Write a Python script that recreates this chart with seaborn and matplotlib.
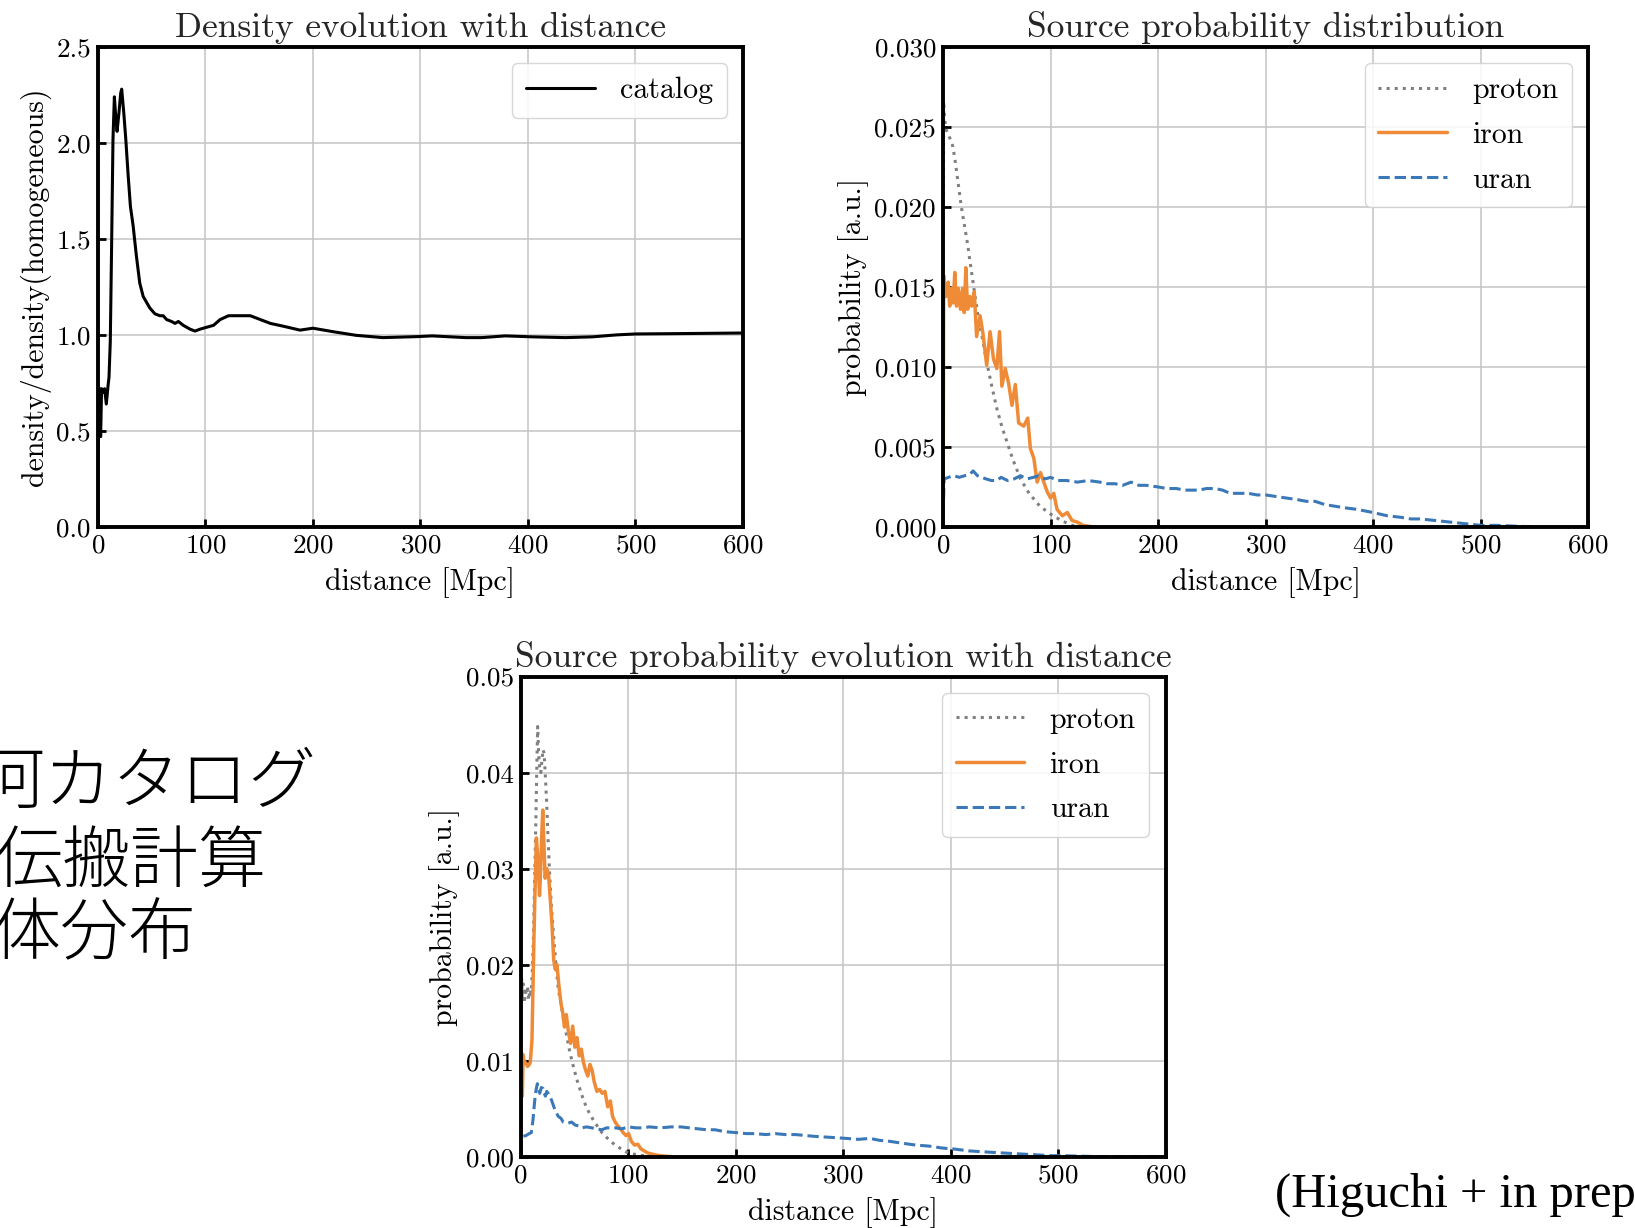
import matplotlib
matplotlib.use("Agg")
import matplotlib.pyplot as plt
import seaborn as sns
from matplotlib.ticker import FormatStrFormatter, MultipleLocator

# ---------------- data ----------------
# catalog density relative to a homogeneous distribution
catalog_dist = [0, 0.6, 1.6, 2.5, 3.4, 4.7, 6.2, 7.8, 9.3, 10.3, 11.5, 12.8, 14.0, 15.3,
                16.5, 17.8, 19.6, 21.2, 22.1, 24.0, 25.9, 28.0, 30.2, 32.7, 35.8, 38.9,
                42.1, 45.2, 48.3, 53.0, 57.6, 60.7, 63.9, 68.5, 71.7, 74.8, 79.4, 85.7,
                90.3, 95.0, 101.2, 107.5, 113.7, 121.5, 129.3, 141.7, 151.1, 160.4, 172.7,
                188, 200, 218.5, 240, 265, 296, 311, 342, 357, 379, 404, 435, 460, 482,
                500, 543, 600]
catalog_ratio = [0.0, 0.73, 0.70, 0.47, 0.72, 0.70, 0.72, 0.64, 0.73, 0.78, 0.97, 1.50,
                 2.02, 2.24, 2.14, 2.06, 2.16, 2.26, 2.28, 2.16, 2.02, 1.84, 1.67, 1.57,
                 1.41, 1.27, 1.20, 1.17, 1.14, 1.11, 1.10, 1.10, 1.08, 1.07, 1.06, 1.07,
                 1.05, 1.03, 1.02, 1.03, 1.04, 1.05, 1.08, 1.10, 1.10, 1.10, 1.08, 1.06,
                 1.045, 1.025, 1.035, 1.017, 0.998, 0.986, 0.991, 0.995, 0.986, 0.986,
                 0.995, 0.99, 0.986, 0.99, 1.0, 1.005, 1.007, 1.01]

# source probability distribution
dist_proton = [0, 0.5, 1.5, 3, 5, 7, 9, 11, 13, 15, 17, 19, 21, 23, 25, 27, 30, 33, 36,
               40, 45, 50, 55, 60, 65, 72, 80, 90, 100, 110, 120, 130, 145]
prob_proton = [0.0, 0.0266, 0.0255, 0.0248, 0.0245, 0.0242, 0.0238, 0.0230, 0.0220,
               0.0210, 0.0200, 0.0192, 0.0184, 0.0176, 0.0166, 0.0157, 0.0143, 0.0130,
               0.0120, 0.0105, 0.0089, 0.0074, 0.0062, 0.0052, 0.0042, 0.0030, 0.0021,
               0.0013, 0.0008, 0.0004, 0.0001, 0.0, 0.0]

dist_iron = [0, 0.6, 2.5, 4.7, 6.2, 7.8, 9.4, 10.9, 12.5, 14.1, 16.2, 18.1, 19.7, 21.2,
             22.8, 25.0, 26.6, 29.0, 31.2, 34.4, 36.9, 40.6, 43.7, 46.9, 50.0, 52.5, 54.7,
             57.8, 60.9, 64.1, 67.2, 70.3, 75.0, 78.8, 81.2, 84.4, 87.5, 90.6, 93.7, 96.9,
             100, 103, 106, 111, 115.6, 120, 125, 130, 140]
prob_iron = [0.0, 0.0157, 0.0144, 0.0153, 0.0138, 0.0149, 0.0140, 0.0159, 0.0138, 0.0149,
             0.0136, 0.0149, 0.0134, 0.0162, 0.0136, 0.0144, 0.0138, 0.0147, 0.0119,
             0.0132, 0.0122, 0.0101, 0.0122, 0.0105, 0.0099, 0.0122, 0.0088, 0.0099,
             0.0090, 0.0076, 0.0089, 0.0065, 0.0063, 0.0068, 0.0049, 0.0043, 0.0028,
             0.0034, 0.0028, 0.0022, 0.0018, 0.0021, 0.0011, 0.0007, 0.0009, 0.0004,
             0.0003, 0.0001, 0.0]

dist_uran = [0, 1, 5, 10, 15, 20, 25, 28, 32, 36, 40, 45, 50, 54, 60, 66, 72, 78, 84, 89,
             95, 100, 107, 115, 125, 135, 146, 153, 160, 167, 175, 182, 189, 200, 208, 217,
             225, 238, 245, 253, 260, 267, 275, 284, 292, 300, 310, 320, 330, 338, 346,
             355, 364, 373, 385, 400, 413, 426, 435, 444, 458, 472, 486, 500, 515, 532,
             550, 570, 600]
prob_uran = [0.0007, 0.0030, 0.0031, 0.0032, 0.0031, 0.0032, 0.0033, 0.0035, 0.0032,
             0.0031, 0.0030, 0.0029, 0.0029, 0.0031, 0.0029, 0.0030, 0.0032, 0.0030,
             0.0031, 0.0032, 0.0030, 0.0031, 0.0029, 0.0029, 0.0028, 0.0029, 0.0028,
             0.0027, 0.0027, 0.0026, 0.0028, 0.0026, 0.0026, 0.0025, 0.0024, 0.0024,
             0.0023, 0.0023, 0.0024, 0.0024, 0.0023, 0.0021, 0.0021, 0.0021, 0.0020,
             0.0020, 0.0019, 0.0018, 0.0017, 0.0016, 0.0016, 0.0014, 0.0013, 0.0012,
             0.0011, 0.0009, 0.0007, 0.0006, 0.0005, 0.0005, 0.0004, 0.0003, 0.0002,
             0.0001, 0.0001, 0.00005, 0.0, 0.0, 0.0]

# source probability weighted by the catalog density
evo_dist_proton = [0, 0.8, 1.5, 2.5, 3.5, 4.5, 5.6, 6.5, 7.5, 8.7, 9.8, 10.8, 11.9, 12.8,
                   14.1, 15.2, 15.9, 16.8, 17.8, 18.8, 19.8, 20.8, 21.9, 22.9, 24.2, 25.6,
                   27.0, 28.7, 30.6, 32.5, 35, 37.5, 40, 43, 46, 49.5, 53, 57, 61, 65, 70,
                   75, 80, 88, 95, 100, 108, 115, 125]
evo_prob_proton = [0.0, 0.0190, 0.0165, 0.0180, 0.0160, 0.0172, 0.0168, 0.0178, 0.0163,
                   0.0174, 0.0170, 0.0190, 0.0225, 0.0274, 0.0344, 0.0413, 0.0448, 0.0420,
                   0.0405, 0.0400, 0.0412, 0.0424, 0.0420, 0.0400, 0.0370, 0.0330, 0.0295,
                   0.0260, 0.0232, 0.0205, 0.0175, 0.0160, 0.0143, 0.0125, 0.0108, 0.0092,
                   0.0078, 0.0064, 0.0052, 0.0043, 0.0034, 0.0026, 0.0020, 0.0012, 0.0007,
                   0.0004, 0.0002, 0.0001, 0.0]

evo_dist_iron = [0, 0.8, 1.6, 2.4, 3.2, 4.2, 5.3, 6.4, 7.5, 9.0, 10.6, 11.9, 13.1, 14.7,
                 16.2, 17.6, 18.3, 19.4, 20.6, 21.6, 22.8, 24.4, 26.0, 27.6, 29.2, 30.8,
                 32.3, 33.8, 35.5, 37.5, 39.2, 40.8, 42.5, 44.5, 46.5, 48.5, 50.5, 52.5,
                 54.5, 56.5, 58.5, 60.5, 62.5, 64.5, 66.5, 68.5, 71, 73.5, 76, 78.5, 81,
                 83.5, 85.5, 88, 90.5, 93, 95.5, 98, 100.5, 103, 106, 109, 112, 115, 118,
                 121, 125, 130, 140]
evo_prob_iron = [0.0, 0.0108, 0.0063, 0.0106, 0.0100, 0.0098, 0.0097, 0.0094, 0.0095,
                 0.0098, 0.0122, 0.0198, 0.0262, 0.0332, 0.0308, 0.0272, 0.0288, 0.0326,
                 0.0361, 0.0330, 0.0290, 0.0300, 0.0294, 0.0268, 0.0242, 0.0205, 0.0195,
                 0.0200, 0.0180, 0.0160, 0.0150, 0.0135, 0.0148, 0.0130, 0.0118, 0.0136,
                 0.0114, 0.0124, 0.0105, 0.0112, 0.0098, 0.0090, 0.0084, 0.0096, 0.0090,
                 0.0078, 0.0068, 0.0070, 0.0066, 0.0068, 0.0052, 0.0058, 0.0042, 0.0036,
                 0.0032, 0.0029, 0.0025, 0.0022, 0.0024, 0.0016, 0.0012, 0.0013, 0.0008,
                 0.0006, 0.0004, 0.0003, 0.0002, 0.0001, 0.0]

evo_dist_uran = [0, 0.6, 2.2, 5, 8, 10, 11.5, 13.1, 14.3, 15.6, 16.8, 17.8, 19.3, 20.9,
                 22.0, 23.1, 24.3, 25.6, 27.0, 28.75, 30.3, 31.9, 35, 37.5, 39.7, 44.4,
                 47.5, 50.6, 54, 56.9, 61.5, 66.25, 70, 75.6, 80, 88, 94, 100.6, 107, 113,
                 120, 130, 140, 149, 157, 165, 173, 181, 190, 201, 210, 218, 228, 237, 246,
                 256, 265, 275, 290, 303, 314, 325, 334, 343, 355, 368, 380, 392, 403, 417,
                 431, 446, 462, 478, 494, 505, 520, 540, 560, 600]
evo_prob_uran = [0.0005, 0.0016, 0.0021, 0.0022, 0.0024, 0.0025, 0.0038, 0.0058, 0.0069,
                 0.0076, 0.0070, 0.0066, 0.0072, 0.0071, 0.0066, 0.0063, 0.0068, 0.0066,
                 0.0063, 0.0059, 0.0054, 0.0049, 0.0042, 0.0040, 0.0036, 0.0035, 0.0036,
                 0.0033, 0.0032, 0.0030, 0.0031, 0.0030, 0.0029, 0.0028, 0.0030, 0.0030,
                 0.0029, 0.0031, 0.0030, 0.0030, 0.0031, 0.0030, 0.0031, 0.0031, 0.0030,
                 0.0029, 0.0028, 0.0028, 0.0026, 0.0025, 0.0024, 0.0024, 0.0023, 0.0024,
                 0.0023, 0.0023, 0.0022, 0.0021, 0.0020, 0.0019, 0.0018, 0.0019, 0.0017,
                 0.0016, 0.0014, 0.0012, 0.0011, 0.0009, 0.0008, 0.0006, 0.0005, 0.0004,
                 0.0003, 0.0002, 0.0001, 0.0001, 0.00005, 0.0, 0.0, 0.0]

x_ticks = [0, 100, 200, 300, 400, 500, 600]
side_notes = ["河カタログ", "伝搬計算", "体分布"]
reference_note = "(Higuchi + in prep.)"

# ---------------- style ----------------
sns.set_theme(style="whitegrid")
plt.rcParams["font.family"] = ["cmr10", "DejaVu Serif"]
plt.rcParams["mathtext.fontset"] = "cm"
plt.rcParams["axes.formatter.use_mathtext"] = True

GRAY = "#808080"
ORANGE = "#ef8a36"
BLUE = "#3b78b8"

TICK_FS = 19.5
LABEL_FS = 21.5
TITLE_FS = 25.5
LEGEND_FS = 21.5

fig = plt.figure(figsize=(16.35, 12.28), dpi=100)
fig.patch.set_facecolor("white")

ax1 = fig.add_axes([0.0599, 0.5709, 0.3945, 0.3909])
ax2 = fig.add_axes([0.5768, 0.5709, 0.3945, 0.3909])
ax3 = fig.add_axes([0.3184, 0.0581, 0.3945, 0.3909])


def style_axes(ax, ymax, ystep, yfmt):
    ax.set_facecolor("white")
    ax.set_xlim(0, 600)
    ax.set_ylim(0, ymax)
    ax.set_xticks(x_ticks)
    ax.yaxis.set_major_locator(MultipleLocator(ystep))
    ax.yaxis.set_major_formatter(FormatStrFormatter(yfmt))
    ax.grid(True, color="#c4c4c4", linewidth=1.1)
    ax.set_axisbelow(True)
    for sp in ax.spines.values():
        sp.set_visible(True)
        sp.set_color("black")
        sp.set_linewidth(2.8)
    ax.tick_params(axis="both", which="major", direction="in", length=6, width=2,
                   color="black", labelsize=TICK_FS, labelcolor="black",
                   bottom=True, left=True, top=False, right=False, pad=5)
    ax.set_xlabel("distance [Mpc]", fontsize=LABEL_FS, color="black", labelpad=7)


def add_legend(ax):
    leg = ax.legend(loc="upper right", fontsize=LEGEND_FS, handlelength=2.3,
                    handletextpad=0.85, borderaxespad=0.55, borderpad=0.45,
                    labelspacing=0.58, frameon=True, fancybox=True, framealpha=0.85,
                    edgecolor="#d0d0d0", facecolor="white")
    leg.get_frame().set_linewidth(1.0)
    for t in leg.get_texts():
        t.set_color("black")


# --- density evolution ---
sns.lineplot(x=catalog_dist, y=catalog_ratio, ax=ax1, color="black", linewidth=2.2,
             label="catalog", errorbar=None)
style_axes(ax1, 2.5, 0.5, "%.1f")
ax1.set_title("Density evolution with distance", fontsize=TITLE_FS, pad=7)
ax1.set_ylabel("density/density(homogeneous)", fontsize=LABEL_FS, color="black")
add_legend(ax1)

# --- source probability distribution ---
sns.lineplot(x=dist_proton, y=prob_proton, ax=ax2, color=GRAY, linewidth=2.2,
             linestyle=":", label="proton", errorbar=None)
sns.lineplot(x=dist_iron, y=prob_iron, ax=ax2, color=ORANGE, linewidth=2.5,
             linestyle="-", label="iron", errorbar=None)
sns.lineplot(x=dist_uran, y=prob_uran, ax=ax2, color=BLUE, linewidth=2.2,
             linestyle="--", label="uran", errorbar=None)
style_axes(ax2, 0.030, 0.005, "%.3f")
ax2.set_title("Source probability distribution", fontsize=TITLE_FS, pad=7)
ax2.set_ylabel("probability [a.u.]", fontsize=LABEL_FS, color="black")
add_legend(ax2)

# --- source probability evolution ---
sns.lineplot(x=evo_dist_proton, y=evo_prob_proton, ax=ax3, color=GRAY, linewidth=2.2,
             linestyle=":", label="proton", errorbar=None)
sns.lineplot(x=evo_dist_iron, y=evo_prob_iron, ax=ax3, color=ORANGE, linewidth=2.5,
             linestyle="-", label="iron", errorbar=None)
sns.lineplot(x=evo_dist_uran, y=evo_prob_uran, ax=ax3, color=BLUE, linewidth=2.2,
             linestyle="--", label="uran", errorbar=None)
style_axes(ax3, 0.05, 0.01, "%.2f")
ax3.set_title("Source probability evolution with distance", fontsize=TITLE_FS, pad=7)
ax3.set_ylabel("probability [a.u.]", fontsize=LABEL_FS, color="black")
add_legend(ax3)

# --- slide notes (the text runs off the left edge of the slide) ---
W, H = 1635.0, 1228.0
note_x = [-24, -6, -8]
note_y = [784, 863, 936]
for txt, xp, yp in zip(side_notes, note_x, note_y):
    fig.text(xp / W, 1 - yp / H, txt, fontsize=49, ha="left", va="center",
             family=["Noto Sans CJK JP", "DejaVu Sans"], fontweight="light",
             color="black")

fig.text(1275 / W, 1 - 1207 / H, reference_note, fontsize=35, ha="left",
         va="baseline", family=["Liberation Serif", "DejaVu Serif"], color="black")

fig.savefig("out.png", dpi=100, facecolor="white")
